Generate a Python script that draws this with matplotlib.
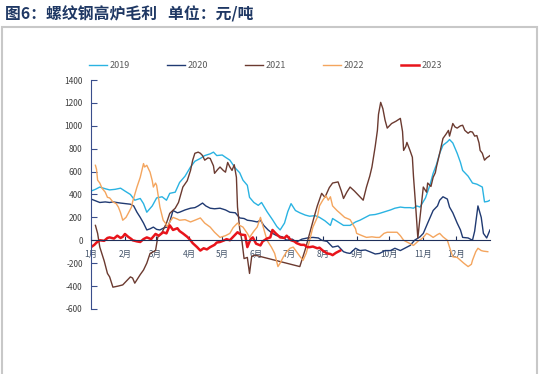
import numpy as np
import matplotlib
matplotlib.use('Agg')
import matplotlib.pyplot as plt
from matplotlib.patches import Rectangle

plt.rcParams['font.family'] = ['Noto Sans CJK SC', 'DejaVu Sans']
plt.rcParams['axes.unicode_minus'] = False

# day of year / value (元/吨)
d2019 = [0, 4, 8, 13, 17, 22, 27, 31, 36, 40, 45, 48, 51, 56, 60, 65, 69, 72, 77, 81, 86, 91, 95, 100, 104, 109, 112,
         115, 120, 123, 127, 132, 136, 139, 143, 145, 149, 153, 156, 161, 166, 170, 173, 177, 180, 183, 187, 191, 196,
         200, 205, 209, 214, 219, 221, 226, 231, 237, 242, 246, 251, 255, 260, 264, 269, 274, 278, 283, 287, 292, 295,
         298, 301, 306, 310, 313, 316, 319, 322, 326, 328, 331, 335, 338, 340, 345, 349, 353, 358, 360, 363, 365]
v2019 = [430, 445, 465, 450, 440, 445, 455, 430, 400, 350, 365, 320, 245, 300, 370, 380, 350, 410, 420, 505, 560, 640,
         690, 715, 740, 755, 770, 740, 745, 725, 700, 630, 590, 525, 480, 375, 330, 305, 330, 250, 180, 120, 90, 150,
         250, 320, 260, 240, 220, 210, 215, 200, 170, 130, 190, 160, 130, 130, 160, 175, 200, 220, 225, 235, 250, 265,
         280, 290, 285, 285, 280, 300, 290, 370, 480, 585, 660, 760, 830, 860, 880, 850, 760, 680, 610, 560, 500, 490,
         465, 335, 340, 350]

d2020 = [0, 4, 8, 13, 17, 20, 27, 36, 39, 42, 45, 48, 51, 54, 57, 60, 63, 67, 70, 72, 75, 79, 81, 86, 91, 95, 98, 102,
         105, 109, 113, 118, 123, 127, 132, 136, 140, 143, 147, 152, 155, 158, 162, 166, 170, 175, 179, 184, 188, 193,
         198, 203, 208, 211, 216, 221, 226, 231, 234, 237, 242, 246, 251, 255, 260, 264, 269, 274, 278, 283, 287, 292,
         296, 301, 304, 308, 313, 317, 319, 322, 326, 328, 331, 335, 338, 340, 345, 349, 351, 354, 357, 359, 362, 365]
v2020 = [360, 345, 330, 335, 330, 335, 325, 315, 300, 245, 200, 150, 90, 100, 115, 95, 90, 110, 115, 160, 260, 240, 245,
         265, 280, 285, 300, 325, 300, 280, 275, 280, 265, 245, 240, 195, 190, 175, 170, 160, 175, 130, 90, 60, 40, 30,
         0, 10, -15, 10, 20, 25, 20, 0, -10, -60, -50, -100, -110, -115, -70, -90, -85, -100, -120, -115, -90, -90, -70,
         -90, -70, -45, 0, 30, 60, 150, 260, 300, 350, 380, 360, 290, 240, 150, 90, 25, 20, 0, 80, 300, 200, 60, 20, 90]

d2021 = [4, 6, 8, 12, 15, 17, 20, 25, 29, 32, 36, 38, 40, 45, 48, 51, 54, 59, 61, 65, 69, 72, 77, 80, 84, 88, 91, 93, 95,
         98, 100, 102, 104, 107, 109, 112, 113, 116, 118, 121, 123, 125, 127, 129, 131, 133, 134, 136, 138, 140, 143,
         145, 147, 150, 191, 196, 200, 204, 207, 211, 214, 218, 221, 226, 229, 231, 234, 237, 241, 243, 246, 249, 252,
         255, 257, 260, 262, 263, 265, 267, 269, 271, 273, 275, 279, 283, 285, 286, 288, 289, 292, 294, 295, 297, 299,
         301, 304, 307, 308, 311, 313, 315, 316, 319, 322, 325, 327, 328, 331, 333, 335, 338, 340, 342, 345, 347, 349,
         351, 353, 355, 356, 358, 360, 362, 365]
v2021 = [130, 60, -60, -180, -290, -320, -410, -400, -390, -360, -320, -330, -375, -300, -260, -200, -115, -90, 25, 70,
         150, 235, 280, 330, 465, 520, 610, 700, 760, 770, 760, 740, 700, 720, 715, 650, 585, 620, 640, 610, 595, 680,
         640, 610, 660, 550, 290, 100, 0, -160, -150, -290, -140, -130, -230, -80, 60, 200, 300, 410, 375, 460, 500,
         510, 430, 365, 420, 465, 430, 410, 380, 350, 465, 560, 640, 820, 960, 1100, 1205, 1150, 1050, 980, 1000, 1020,
         1040, 1065, 950, 785, 820, 855, 780, 725, 560, 300, 20, 200, 465, 420, 500, 470, 550, 590, 640, 760, 890, 930,
         960, 910, 1020, 990, 980, 1000, 1005, 960, 935, 950, 945, 910, 915, 850, 785, 760, 700, 720, 740]

d2022 = [4, 5, 6, 8, 10, 13, 15, 17, 20, 23, 25, 27, 29, 32, 34, 37, 38, 40, 42, 45, 48, 49, 51, 54, 56, 57, 59, 60, 63,
         66, 68, 70, 72, 75, 79, 81, 86, 91, 95, 100, 104, 109, 113, 118, 123, 127, 130, 134, 136, 139, 143, 145, 149,
         152, 155, 158, 161, 165, 168, 171, 173, 176, 179, 182, 185, 188, 191, 194, 197, 200, 203, 207, 209, 212, 215,
         217, 219, 221, 225, 228, 232, 237, 242, 243, 248, 252, 257, 261, 264, 268, 271, 275, 280, 283, 286, 290, 295,
         299, 302, 304, 307, 310, 313, 317, 319, 322, 326, 328, 331, 335, 338, 341, 345, 348, 349, 352, 354, 357, 359,
         363]
v2022 = [655, 620, 525, 500, 455, 420, 375, 370, 335, 320, 290, 240, 175, 200, 235, 290, 335, 400, 465, 550, 670, 640,
         655, 595, 520, 465, 500, 480, 290, 175, 150, 115, 160, 200, 185, 175, 180, 160, 175, 195, 150, 115, 70, 25, 40,
         60, 110, 150, 130, 115, 60, 25, 80, 115, 200, 100, 0, -60, -115, -230, -200, -145, -100, -70, -60, -100, -140,
         -175, -110, 0, 115, 200, 300, 350, 390, 350, 380, 300, 260, 235, 200, 180, 100, 60, 40, 25, 30, 25, 25, 60, 70,
         70, 70, 40, 0, -20, -45, -10, 10, 25, 60, 45, 25, 50, 60, 30, 0, -60, -145, -150, -175, -200, -230, -210, -175,
         -100, -70, -90, -95, -100]

d2023 = [0, 3, 5, 8, 12, 15, 17, 21, 24, 27, 29, 31, 34, 37, 38, 42, 45, 48, 51, 55, 59, 62, 66, 69, 72, 75, 79, 81,
         84, 88, 91, 93, 97, 100, 103, 106, 109, 113, 115, 118, 122, 124, 127, 131, 134, 137, 141, 143, 146, 148, 151,
         155, 157, 161, 164, 166, 169, 173, 177, 179, 183, 186, 188, 192, 195, 198, 200, 203, 207, 209, 212, 216, 219,
         221, 224, 228]
v2023 = [-60, -40, -20, 0, -5, 20, 25, 15, 40, 20, 30, 55, 30, 10, 0, -10, -15, 10, 25, 10, 55, 40, 70, 60, 130, 90,
         105, 80, 60, 30, 0, -25, -60, -90, -70, -80, -60, -40, -20, -15, 0, 10, 0, 40, 70, 50, 45, -60, 10, 25, -30,
         -45, -10, 15, 25, 90, 60, 25, 20, 40, 0, -10, -25, -40, -40, -60, -60, -55, -70, -65, -90, -115, -120, -130,
         -110, -90]

month_start = [0, 31, 59, 90, 120, 151, 181, 212, 243, 273, 304, 334]
month_labels = ['1月', '2月', '3月', '4月', '5月', '6月', '7月', '8月', '9月', '10月', '11月', '12月']
yticks = [-600, -400, -200, 0, 200, 400, 600, 800, 1000, 1200, 1400]

fig = plt.figure(figsize=(5.42, 3.74), dpi=100)
ax = fig.add_axes([0.168, 0.174, 0.736, 0.612])

ax.plot(d2019, v2019, color='#2AB3E2', lw=1.0, label='2019')
ax.plot(d2020, v2020, color='#203A72', lw=1.0, label='2020')
ax.plot(d2021, v2021, color='#6B3A30', lw=1.0, label='2021')
ax.plot(d2022, v2022, color='#F4A55E', lw=1.0, label='2022')
ax.plot(d2023, v2023, color='#E8141B', lw=1.8, label='2023')

ax.set_xlim(0, 365)
ax.set_ylim(-600, 1400)
ax.set_yticks(yticks)
ax.set_yticklabels([str(v) for v in yticks])
ax.set_xticks(month_start)
ax.set_xticklabels(month_labels, rotation=45, ha='right', va='top', rotation_mode='anchor')

ax.spines['top'].set_visible(False)
ax.spines['right'].set_visible(False)
ax.spines['left'].set_color('#3A4E8C')
ax.spines['bottom'].set_color('#1F2F5A')
ax.spines['bottom'].set_position(('data', 0))
ax.tick_params(axis='y', direction='in', length=4, color='#3A4E8C', labelsize=6, labelcolor='#404040', pad=6)
ax.tick_params(axis='x', direction='in', length=3, color='#1F2F5A', labelsize=6, labelcolor='#44546A', pad=7)

fig.legend(loc='center', bbox_to_anchor=(0.49, 0.824), ncol=5, frameon=False, fontsize=6.5,
           handlelength=2.0, columnspacing=4.1, handletextpad=0.3, labelcolor='#595959')

fig.text(0.01, 0.962, '图6：螺纹钢高炉毛利   单位：元/吨', fontsize=11.4, fontweight='bold',
         color='#1F3864', va='center', ha='left')

fig.patches.append(Rectangle((0.003, -0.01), 0.988, 0.938, transform=fig.transFigure,
                             fill=False, edgecolor='#C8C8C8', lw=1.5))

fig.savefig('out.png', dpi=100)
